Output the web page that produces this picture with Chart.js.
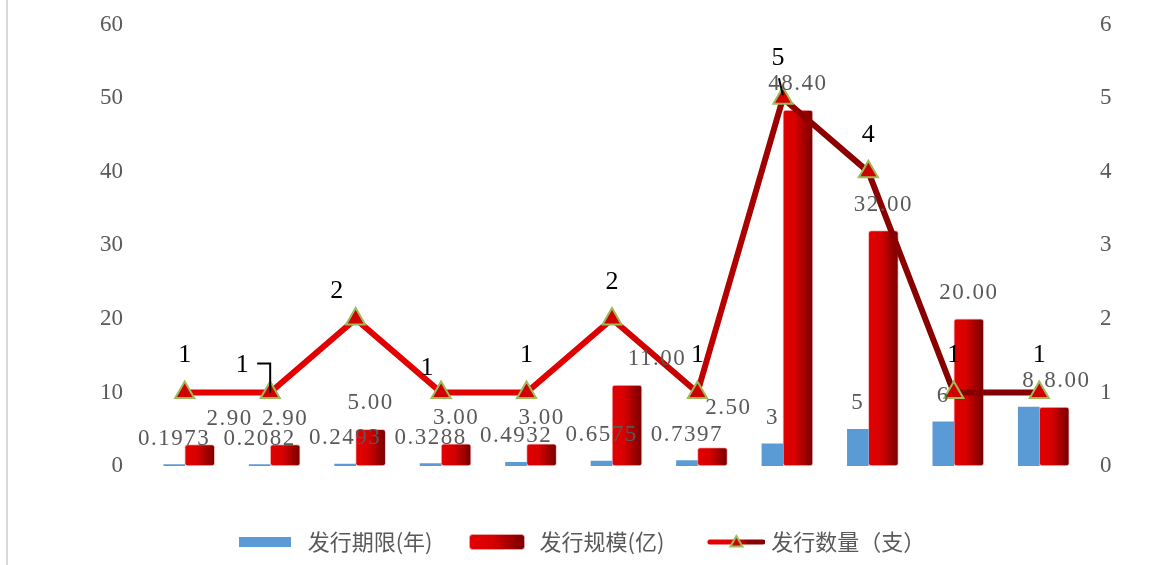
<!DOCTYPE html>
<html>
<head>
<meta charset="utf-8">
<script src="https://cdn.jsdelivr.net/npm/chart.js@4.4.1/dist/chart.umd.min.js"></script>
<style>
html,body{margin:0;padding:0;background:#ffffff;}
#wrap{position:relative;width:1159px;height:565px;overflow:hidden;}
#edge{position:absolute;left:6px;top:0;width:2px;height:565px;background:#d9d9d9;}
canvas{position:absolute;left:0;top:0;}
</style>
</head>
<body>
<div id="wrap"><div id="edge"></div><canvas id="c" width="1159" height="565"></canvas></div>
<script>
// ---- data ----
const categories = ['0.1973', '0.2082', '0.2493', '0.3288', '0.4932', '0.6575', '0.7397', '3', '5', '6', '8'];
const termYears  = [0.1973, 0.2082, 0.2493, 0.3288, 0.4932, 0.6575, 0.7397, 3, 5, 6, 8];
const issueScale = [2.90, 2.90, 5.00, 3.00, 3.00, 11.00, 2.50, 48.40, 32.00, 20.00, 8.00];
const issueCount = [1, 1, 2, 1, 1, 2, 1, 5, 4, 1, 1];
const leftTicks  = [0, 10, 20, 30, 40, 50, 60];
const rightTicks = [0, 1, 2, 3, 4, 5, 6];
const seriesNames = ['发行期限(年)', '发行规模(亿)', '发行数量（支）'];

// ---- styles ----
const NUM_FONT = '"Liberation Serif", "DejaVu Serif", serif';
const CJK_FONT = '"Noto Sans CJK SC", "Noto Sans", sans-serif';
const GREY = '#595959';
const BLUE = '#5b9bd5';
const BLUE_W = 21, RED_W = 30;

function redBarGradient(ctx, x0, w) {
  const g = ctx.createLinearGradient(x0, 0, x0 + w, 0);
  g.addColorStop(0, '#e20000');
  g.addColorStop(0.4, '#d80000');
  g.addColorStop(1, '#760000');
  return g;
}
function lineGradient(ctx, a, b) {
  const g = ctx.createLinearGradient(a, 0, b, 0);
  g.addColorStop(0, '#e60000');
  g.addColorStop(0.47, '#e00000');
  g.addColorStop(0.6, '#c00000');
  g.addColorStop(0.7, '#8e0000');
  g.addColorStop(1, '#820000');
  return g;
}

// legend icons (offscreen canvases drawn by Chart.js legend as point styles)
function makeIcon(w, h, draw) {
  const cv = document.createElement('canvas');
  cv.width = w; cv.height = h;
  draw(cv.getContext('2d'), w, h);
  return cv;
}
const iconBlue = makeIcon(52, 10, (c, w, h) => { c.fillStyle = BLUE; c.fillRect(0, 0, w, h); });
const iconRed = makeIcon(56, 16, (c, w, h) => {
  c.fillStyle = redBarGradient(c, 0, w);
  c.beginPath(); c.roundRect(0.5, 0.5, w - 1, h - 1, 3); c.fill();
  c.strokeStyle = 'rgba(240,170,170,0.8)'; c.lineWidth = 1; c.stroke();
});
const iconLine = makeIcon(72, 20, (c, w, h) => {
  const x0 = 15;
  c.strokeStyle = lineGradient(c, x0, w); c.lineWidth = 5; c.lineCap = 'round';
  c.beginPath(); c.moveTo(x0 + 2, h / 2); c.lineTo(w - 2, h / 2); c.stroke();
  const cx = x0 + (w - x0) / 2, cy = h / 2 + 1, r = 7;
  c.beginPath();
  c.moveTo(cx, cy - r); c.lineTo(cx + 0.866 * r, cy + 0.5 * r); c.lineTo(cx - 0.866 * r, cy + 0.5 * r); c.closePath();
  c.fillStyle = '#c80000'; c.fill();
  c.strokeStyle = '#9bbb59'; c.lineWidth = 2; c.stroke();
});
const legendIcons = [iconBlue, iconRed, iconLine];

// label position tweaks (as in the reference, some labels were moved by hand)
const scaleLabelShift = {0: [30, 0], 5: [30, 0], 6: [16, -14], 10: [13, 0]};
const countLabelShift = {1: [-28, 10], 2: [-19, 9], 3: [-14, 13], 7: [-5, -3]};
const leaders = {1: [[-13, -29], [0, -29], [0, 0]], 7: [[-4, -20], [0, -3]]};

const labelPlugin = {
  id: 'valueLabels',
  afterDatasetsDraw(chart) {
    const ctx = chart.ctx;
    ctx.save();
    ctx.textAlign = 'center';
    ctx.textBaseline = 'middle';
    ctx.font = '23px ' + NUM_FONT;
    ctx.fillStyle = GREY;
    if ('letterSpacing' in ctx) ctx.letterSpacing = '1.5px';
    chart.getDatasetMeta(0).data.forEach((el, i) => {
      ctx.fillText(String(termYears[i]), el.x, el.y - 26);
    });
    chart.getDatasetMeta(1).data.forEach((el, i) => {
      const s = scaleLabelShift[i] || [0, 0];
      ctx.fillText(issueScale[i].toFixed(2), el.x + s[0], el.y - 26 + s[1]);
    });
    if ('letterSpacing' in ctx) ctx.letterSpacing = '0px';
    ctx.font = '26px ' + NUM_FONT;
    ctx.fillStyle = '#000000';
    ctx.strokeStyle = '#000000';
    ctx.lineWidth = 2;
    chart.getDatasetMeta(2).data.forEach((el, i) => {
      const s = countLabelShift[i] || [0, 0];
      ctx.fillText(String(issueCount[i]), el.x + s[0], el.y - 37 + s[1]);
      const L = leaders[i];
      if (L) {
        ctx.beginPath();
        L.forEach((p, k) => { if (k === 0) ctx.moveTo(el.x + p[0], el.y + p[1]); else ctx.lineTo(el.x + p[0], el.y + p[1]); });
        ctx.stroke();
      }
    });
    ctx.restore();
  }
};

const ctxMain = document.getElementById('c').getContext('2d');
new Chart(ctxMain, {
  type: 'bar',
  data: {
    labels: categories,
    datasets: [
      {
        label: seriesNames[0],
        data: termYears,
        yAxisID: 'y',
        backgroundColor: BLUE,
        barThickness: BLUE_W,
        order: 1
      },
      {
        label: seriesNames[1],
        data: issueScale,
        yAxisID: 'y',
        barThickness: RED_W,
        borderRadius: 3,
        borderSkipped: false,
        borderWidth: 1,
        borderColor: 'rgba(240,170,170,0.7)',
        backgroundColor: (c) => {
          const chart = c.chart;
          const xs = chart.scales && chart.scales.x;
          if (!xs || c.type !== 'data') return '#d00000';
          const px = xs.getPixelForValue(c.dataIndex);
          if (!isFinite(px)) return '#d00000';
          return redBarGradient(chart.ctx, px, RED_W);
        },
        order: 1
      },
      {
        type: 'line',
        label: seriesNames[2],
        data: issueCount,
        yAxisID: 'y1',
        borderWidth: 6,
        borderColor: (c) => {
          const a = c.chart.chartArea;
          if (!a || !isFinite(a.left) || !isFinite(a.right) || a.right <= a.left) return '#c00000';
          return lineGradient(c.chart.ctx, a.left, a.right);
        },
        tension: 0,
        pointStyle: 'triangle',
        pointRadius: 11,
        pointHoverRadius: 11,
        pointBackgroundColor: '#d00000',
        pointBorderColor: '#9bbb59',
        pointBorderWidth: 2,
        order: -1
      }
    ]
  },
  options: {
    responsive: false,
    animation: false,
    devicePixelRatio: 1,
    layout: { padding: { top: 17, bottom: 2, left: 0, right: 0 } },
    scales: {
      x: {
        display: true,
        grid: { display: false },
        border: { display: false },
        ticks: { display: false },
        afterFit: (s) => { s.height = 32; }
      },
      y: {
        position: 'left',
        min: leftTicks[0],
        max: leftTicks[leftTicks.length - 1],
        grid: { display: false },
        border: { display: false },
        ticks: { stepSize: leftTicks[1] - leftTicks[0], padding: 11, color: GREY, font: { family: NUM_FONT, size: 23 } },
        afterFit: (s) => { s.width = 142; }
      },
      y1: {
        position: 'right',
        min: rightTicks[0],
        max: rightTicks[rightTicks.length - 1],
        grid: { display: false },
        border: { display: false },
        ticks: { stepSize: rightTicks[1] - rightTicks[0], padding: 10, color: GREY, font: { family: NUM_FONT, size: 23 } },
        afterFit: (s) => { s.width = 77; }
      }
    },
    plugins: {
      tooltip: { enabled: false },
      legend: {
        position: 'bottom',
        labels: {
          usePointStyle: true,
          pointStyleWidth: 63,
          padding: 33,
          color: GREY,
          font: { family: CJK_FONT, size: 22 },
          sort: (a, b) => a.datasetIndex - b.datasetIndex,
          generateLabels: (chart) => {
            const items = Chart.defaults.plugins.legend.labels.generateLabels(chart);
            items.forEach((it) => { it.pointStyle = legendIcons[it.datasetIndex]; it.fontColor = GREY; it.lineWidth = 0; });
            return items;
          }
        }
      }
    }
  },
  plugins: [labelPlugin]
});
</script>
</body>
</html>
